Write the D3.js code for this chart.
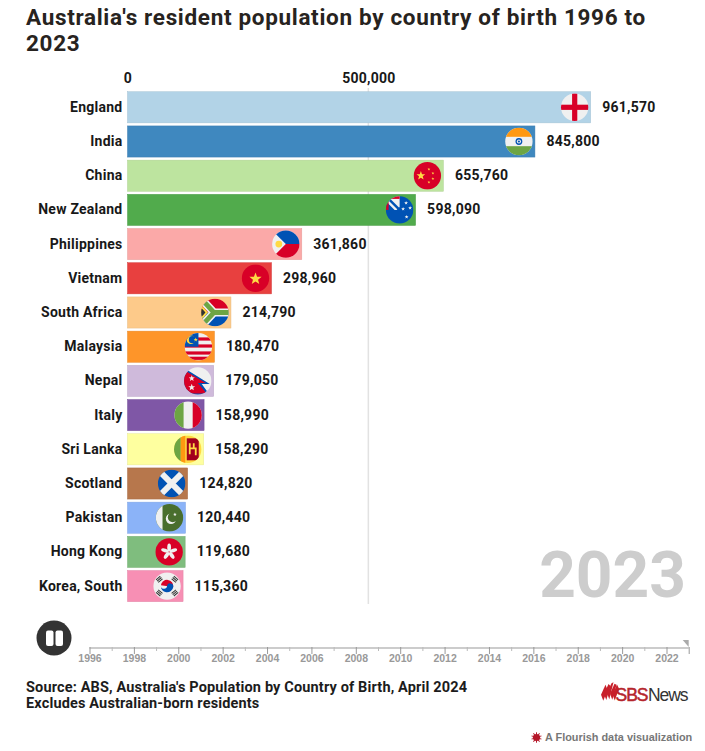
<!DOCTYPE html>
<html lang="en">
<head>
<meta charset="utf-8">
<title>Australia's resident population by country of birth</title>
<script src="https://cdn.jsdelivr.net/npm/d3@7"></script>
<style>
	html, body { margin: 0; background: #fff; }
	svg { display: block; }
	text { font-family: Roboto, "Noto Sans", sans-serif; font-weight: 700; fill: #1c1c1c; }
	.title { font-size: 22.5px; letter-spacing: 0.67px; fill: #272320; }
	.cat, .val, .top text { font-size: 14px; fill: #181818; letter-spacing: 0.25px; }
	.note { font-size: 14.5px; fill: #1c1c1c; letter-spacing: 0.15px; }
	.arial { font-family: "Liberation Sans", Arial, sans-serif; }
</style>
</head>
<body>
<svg id="chart" width="705" height="751"></svg>
<script>
// latest frame of the race (2023)
var countries = ["England", "India", "China", "New Zealand", "Philippines", "Vietnam", "South Africa", "Malaysia", "Nepal", "Italy", "Sri Lanka", "Scotland", "Pakistan", "Hong Kong", "Korea, South"];
var values = [961570, 845800, 655760, 598090, 361860, 298960, 214790, 180470, 179050, 158990, 158290, 124820, 120440, 119680, 115360];
var barColors = ["#b2d3e7", "#3f88bf", "#bde49f", "#51ab4c", "#fba9a8", "#e8403f", "#fdca8a", "#fe9529", "#cfbadb", "#7f57a6", "#feff9f", "#b7774c", "#8bb3f8", "#7fbd7e", "#f78fb4"];
var valueTicks = [0, 500000];
var years = d3.range(1996, 2024);
var currentYear = 2023;
var titleLines = ["Australia's resident population by country of birth 1996 to", "2023"];
var noteLines = ["Source: ABS, Australia's Population by Country of Birth, April 2024", "Excludes Australian-born residents"];

var svg = d3.select("#chart");
var fmt = d3.format(",");

var x = d3.scaleLinear().domain([0, 1000000]).range([127.5, 609.2]);
var y = d3.scaleBand().domain(countries).range([90.2, 603.2]).paddingInner(0.09).paddingOuter(0.045);
var yearX = d3.scaleLinear().domain([1996, 2023]).range([89.5, 688.7]);

// title
svg.selectAll(".title").data(titleLines).enter().append("text")
	.attr("class", "title")
	.attr("x", 26)
	.attr("y", function(d, i) { return 25 + i * 26; })
	.text(function(d) { return d; });

// value axis on top, with grid line
var topAxis = svg.append("g").attr("class", "top")
	.attr("transform", "translate(0,83)")
	.call(d3.axisTop(x).tickValues(valueTicks).tickSize(0).tickPadding(0).tickFormat(fmt));
topAxis.select(".domain").remove();
topAxis.attr("font-family", null).attr("font-size", null);

svg.selectAll(".grid").data(valueTicks.slice(1)).enter().append("line")
	.attr("class", "grid")
	.attr("x1", x).attr("x2", x)
	.attr("y1", 88).attr("y2", 604)
	.attr("stroke", "#e2e2e2").attr("stroke-width", 1.5);

// bars
var rows = svg.selectAll(".row").data(countries).enter().append("g").attr("class", "row");

rows.append("rect")
	.attr("x", x(0))
	.attr("y", function(d) { return y(d); })
	.attr("width", function(d, i) { return x(values[i]) - x(0); })
	.attr("height", y.bandwidth())
	.attr("fill", function(d, i) { return barColors[i]; })
	.attr("stroke", function(d, i) { return d3.color(barColors[i]).darker(0.25); })
	.attr("stroke-width", 0.5);

rows.append("text")
	.attr("class", "cat")
	.attr("x", x(0) - 5)
	.attr("y", function(d) { return y(d) + y.bandwidth() / 2 - 0.5; })
	.attr("dy", "0.35em")
	.attr("text-anchor", "end")
	.text(function(d) { return d; });

rows.append("text")
	.attr("class", "val")
	.attr("x", function(d, i) { return x(values[i]) + 11.5; })
	.attr("y", function(d) { return y(d) + y.bandwidth() / 2 - 0.5; })
	.attr("dy", "0.35em")
	.text(function(d, i) { return fmt(values[i]); });

// flags, drawn in a -14..14 box then clipped to a circle
function box(g, x0, y0, w, h, c) { return g.append("rect").attr("x", x0).attr("y", y0).attr("width", w).attr("height", h).attr("fill", c); }
function shape(g, d, c) { return g.append("path").attr("d", d).attr("fill", c); }
function dot(g, cx, cy, r, c) { return g.append("circle").attr("cx", cx).attr("cy", cy).attr("r", r).attr("fill", c); }
function star(g, cx, cy, r, c) {
	var pts = d3.range(10).map(function(i) {
		var a = -Math.PI / 2 + i * Math.PI / 5, rr = i % 2 ? r * 0.42 : r;
		return [cx + rr * Math.cos(a), cy + rr * Math.sin(a)];
	});
	return g.append("polygon").attr("points", pts.join(" ")).attr("fill", c);
}
function stroke(g, d, c, w) { return g.append("path").attr("d", d).attr("fill", "none").attr("stroke", c).attr("stroke-width", w); }

var flags = {
	"England": function(g) {
		box(g, -14, -14, 28, 28, "#f0f0f0");
		box(g, -14, -2.6, 28, 5.2, "#d80027");
		box(g, -2.6, -14, 5.2, 28, "#d80027");
	},
	"India": function(g) {
		box(g, -14, -14, 28, 28, "#f0f0f0");
		box(g, -14, -14, 28, 9.3, "#ff9811");
		box(g, -14, 4.7, 28, 9.4, "#6da544");
		dot(g, 0, 0, 3.4, "#0052b4"); dot(g, 0, 0, 2.1, "#f0f0f0"); dot(g, 0, 0, 1.1, "#0052b4");
	},
	"China": function(g) {
		box(g, -14, -14, 28, 28, "#d80027");
		star(g, -6.5, 0, 4.6, "#ffda44");
		star(g, 1.5, -6.5, 1.5, "#ffda44"); star(g, 5.5, -2.5, 1.5, "#ffda44");
		star(g, 5.5, 3, 1.5, "#ffda44"); star(g, 1.5, 6.5, 1.5, "#ffda44");
	},
	"New Zealand": function(g) {
		box(g, -14, -14, 28, 28, "#0052b4");
		shape(g, "M-14-14H0V-3L-3,0H-5L-14-9Z", "#f0f0f0");
		stroke(g, "M-10-10L-1,-1", "#0052b4", 2.4);
		box(g, -14, -14, 14, 3, "#d80027");
		box(g, -14, -14, 3, 14, "#d80027");
		star(g, 6.5, -7, 2, "#f0f0f0"); star(g, 10.5, -2, 2, "#f0f0f0");
		star(g, 3.5, -1, 2, "#f0f0f0"); star(g, 7, 7, 2, "#f0f0f0");
	},
	"Philippines": function(g) {
		box(g, -14, -14, 28, 28, "#f0f0f0");
		shape(g, "M-14-14H14V0H0Z", "#0052b4");
		shape(g, "M0,0H14V14H-14Z", "#d80027");
		dot(g, -7, 0, 3.4, "#ffda44");
	},
	"Vietnam": function(g) {
		box(g, -14, -14, 28, 28, "#d80027");
		star(g, 0, 0.5, 6.4, "#ffda44");
	},
	"South Africa": function(g) {
		box(g, -14, -14, 28, 14, "#d80027");
		box(g, -14, 0, 28, 14, "#0052b4");
		stroke(g, "M-14-14L-1,0L-14,14M-1,0H14", "#f0f0f0", 8);
		stroke(g, "M-14-14L-1,0L-14,14M-1,0H14", "#6da544", 4.8);
		shape(g, "M-14-8L-7,0L-14,8Z", "#ffda44");
		shape(g, "M-14-5L-9.5,0L-14,5Z", "#333");
	},
	"Malaysia": function(g) {
		box(g, -14, -14, 28, 28, "#f0f0f0");
		[-9.3, -2.3, 4.7, 10].forEach(function(v) { box(g, -14, v, 28, 3.2, "#d80027"); });
		box(g, -14, -14, 14, 14, "#0052b4");
		dot(g, -7.5, -7, 4.3, "#ffda44"); dot(g, -6, -7, 3.6, "#0052b4");
		star(g, -2.7, -7, 2.2, "#ffda44");
	},
	"Nepal": function(g) {
		box(g, -14, -14, 28, 28, "#f0f0f0");
		shape(g, "M-14-13L12,3H4L12,14H-14Z", "#0052b4");
		shape(g, "M-14-11L8,2H0L9,12.5H-14Z", "#d80027");
		star(g, -6, -2.5, 3.2, "#f0f0f0");
		star(g, -6, 6.5, 3.6, "#f0f0f0");
	},
	"Italy": function(g) {
		box(g, -14, -14, 28, 28, "#f0f0f0");
		box(g, -14, -14, 9.5, 28, "#6da544");
		box(g, 4.6, -14, 9.4, 28, "#d80027");
	},
	"Sri Lanka": function(g) {
		box(g, -14, -14, 28, 28, "#ffda44");
		box(g, -14, -14, 7, 28, "#6da544");
		box(g, -7, -14, 4.5, 28, "#ff9811");
		box(g, -1, -11, 12, 22, "#a2001d");
		stroke(g, "M2-6V5M2-1H8V6M6-1V-6", "#ffda44", 1.8);
	},
	"Scotland": function(g) {
		box(g, -14, -14, 28, 28, "#0052b4");
		stroke(g, "M-14-14L14,14M14-14L-14,14", "#f0f0f0", 6);
	},
	"Pakistan": function(g) {
		box(g, -14, -14, 28, 28, "#496e2d");
		box(g, -14, -14, 7, 28, "#f0f0f0");
		dot(g, 1.5, 1, 5.2, "#f0f0f0"); dot(g, 3.2, -0.4, 4.9, "#496e2d");
		star(g, 5.4, -3.2, 1.9, "#f0f0f0");
	},
	"Hong Kong": function(g) {
		box(g, -14, -14, 28, 28, "#d80027");
		d3.range(5).forEach(function(i) {
			g.append("ellipse").attr("cx", 0).attr("cy", -4.4).attr("rx", 1.9).attr("ry", 3.9)
				.attr("fill", "#f0f0f0").attr("transform", "rotate(" + (i * 72) + ")");
		});
	},
	"Korea, South": function(g) {
		box(g, -14, -14, 28, 28, "#f0f0f0");
		shape(g, "M-6.2-0.8A6.2,6.2,0,0,1,6.2,0.8Z", "#d80027");
		shape(g, "M-6.2-0.8A6.2,6.2,0,0,0,6.2,0.8A3.1,3.1,0,0,0,0,0A3.1,3.1,0,0,1,-6.2-0.8Z", "#0052b4");
		[[-7.8, -6.8, -40], [7.8, -6.8, 40], [-7.8, 6.8, 40], [7.8, 6.8, -40]].forEach(function(t) {
			var b = g.append("g").attr("transform", "translate(" + t[0] + "," + t[1] + ") rotate(" + t[2] + ")");
			box(b, -2.8, -2.2, 5.6, 1, "#333"); box(b, -2.8, -0.5, 5.6, 1, "#333"); box(b, -2.8, 1.2, 5.6, 1, "#333");
		});
	}
};

svg.append("defs").append("clipPath").attr("id", "flagClip").append("circle").attr("r", 13.7);

rows.append("g")
	.attr("transform", function(d, i) { return "translate(" + (x(values[i]) - 16) + "," + (y(d) + y.bandwidth() / 2) + ")"; })
	.attr("clip-path", "url(#flagClip)")
	.each(function(d) { flags[d](d3.select(this)); });

// big year
svg.append("text")
	.attr("x", 686).attr("y", 597)
	.attr("text-anchor", "end")
	.attr("font-size", 64)
	.style("fill", "#cdcdcd")
	.text(currentYear);

// pause button
svg.append("circle").attr("cx", 54).attr("cy", 638).attr("r", 17.5).attr("fill", "#333");
svg.append("rect").attr("x", 46).attr("y", 630.5).attr("width", 7.5).attr("height", 15.5).attr("rx", 2).attr("fill", "#fff");
svg.append("rect").attr("x", 55.5).attr("y", 630.5).attr("width", 7.5).attr("height", 15.5).attr("rx", 2).attr("fill", "#fff");

// timeline
var timeAxis = svg.append("g")
	.attr("transform", "translate(0,648)")
	.call(d3.axisBottom(yearX).tickValues(years).tickSize(6).tickPadding(0)
		.tickFormat(function(d) { return d % 2 === 0 && d < 2023 ? d : ""; }));
timeAxis.select(".domain").attr("stroke", "#ccc").attr("stroke-width", 2).attr("d", "M" + yearX(1996) + ",0H" + yearX(2023));
timeAxis.selectAll(".tick line")
	.attr("stroke", function(d) { return d % 2 === 0 || d === 2023 ? "#999" : "#bbb"; })
	.attr("y1", -1)
	.attr("y2", function(d) { return d % 2 === 0 || d === 2023 ? 6 : 3; });
timeAxis.selectAll(".tick text")
	.attr("class", "arial")
	.attr("y", 7)
	.attr("font-size", null)
	.attr("font-family", null)
	.style("font-size", "10.5px")
	.style("fill", "#999");
svg.append("path")
	.attr("transform", "translate(" + yearX(currentYear) + ",647)")
	.attr("d", "M0,0V-7H-6Z")
	.attr("fill", "#aaa");

// notes
svg.selectAll(".note").data(noteLines).enter().append("text")
	.attr("class", "note")
	.attr("x", 26)
	.attr("y", function(d, i) { return 692 + i * 16.4; })
	.text(function(d) { return d; });

// SBS News logo
var logo = svg.append("g").attr("transform", "translate(607,683.5)");
[[-1.5, 11], [1.5, 14], [4.5, 17], [7.5, 15], [10, 12]].forEach(function(s) {
	logo.append("path")
		.attr("d", "M" + s[0] + "," + (4 - s[1] / 4) + "l-4.5,10l2.3,6l4.2,-" + s[1] + "z")
		.attr("fill", "#c8202b");
});
svg.append("text").attr("class", "arial").attr("x", 615.5).attr("y", 700.5)
	.attr("font-size", 17.5).attr("letter-spacing", "-1px")
	.style("font-weight", 400).style("stroke", "#b5252c").style("stroke-width", 0.5).style("fill", "#b5252c")
	.text("SBS");
svg.append("text").attr("class", "arial").attr("x", 648).attr("y", 700.5)
	.attr("font-size", 17.5).attr("letter-spacing", "-1.1px")
	.style("font-weight", 400).style("fill", "#333")
	.text("News");

// flourish credit
var burst = svg.append("g").attr("transform", "translate(536.5,737.5)");
dot(burst, 0, 0, 3.6, "#b5182a");
d3.range(10).forEach(function(i) {
	burst.append("line").attr("y1", 0).attr("y2", -5.2)
		.attr("stroke", "#b5182a").attr("stroke-width", 1)
		.attr("transform", "rotate(" + (i * 36) + ")");
});
svg.append("text").attr("class", "arial").attr("x", 545).attr("y", 741)
	.attr("font-size", 10.9)
	.style("fill", "#777")
	.text("A Flourish data visualization");
</script>
</body>
</html>
